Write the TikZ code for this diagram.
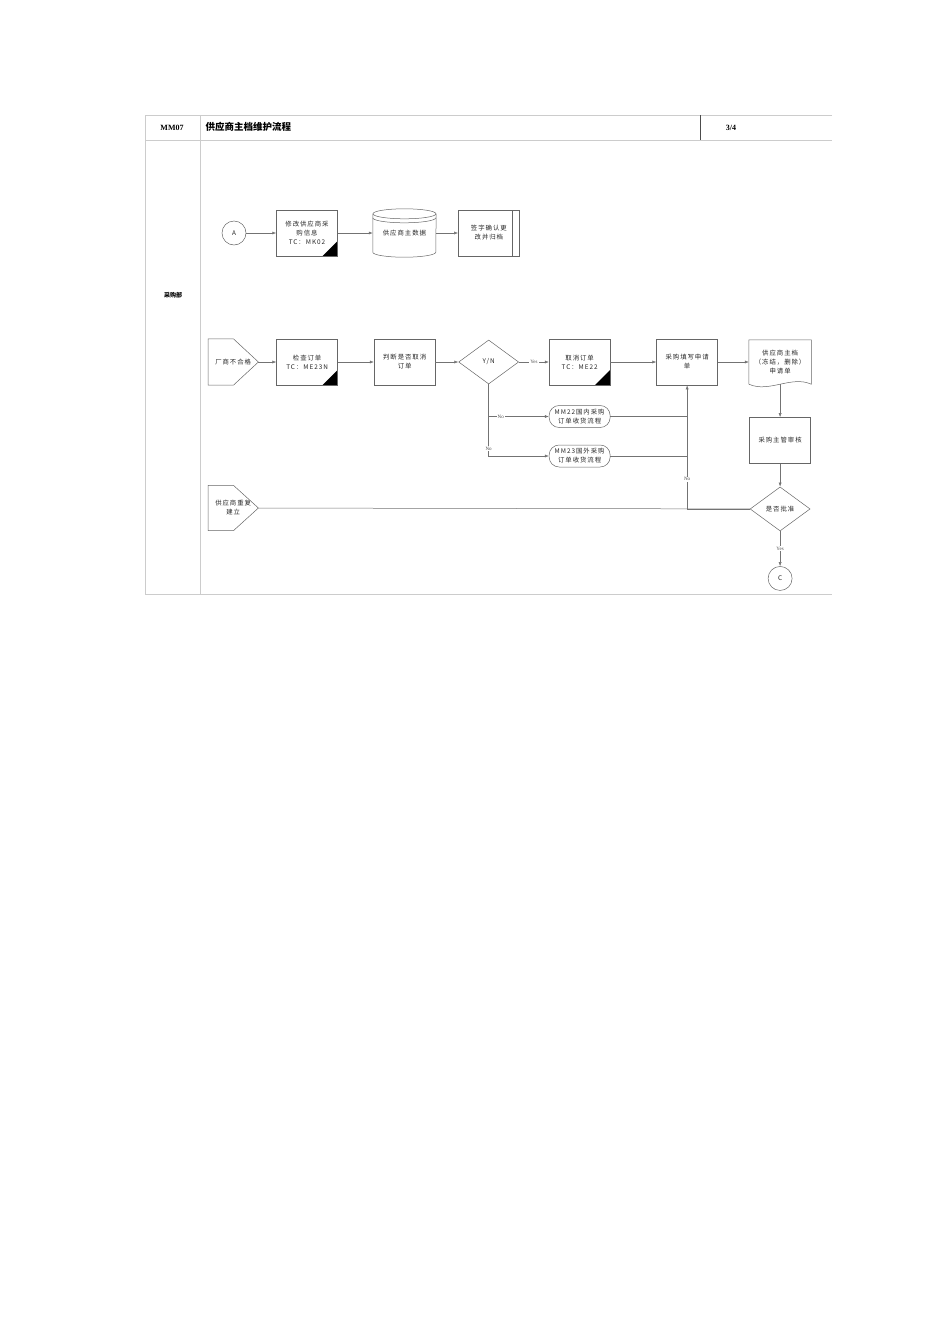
\documentclass[tikz,border=0pt]{standalone}
\usepackage{fontspec}
\setmainfont{Liberation Serif}
\newfontfamily\cjk{Noto Sans CJK SC}[LetterSpace=15]
\newfontfamily\cjkhead{Noto Sans CJK SC}
\usetikzlibrary{positioning, shapes.geometric, arrows.meta}

\tikzset{
	shapeline/.style={draw=black!60, line width=0.5pt},
	boxtext/.style={font=\cjk\fontsize{6.4}{9}\selectfont, align=center, text=black!85},
	stepbox/.style={shapeline, boxtext, rectangle, minimum width=61pt, minimum height=46pt, inner sep=1pt},
	sapbox/.style={stepbox, path picture={\fill[black] (path picture bounding box.south east) -- ++(-15pt,0pt) -- ++(15pt,15pt) -- cycle;}},
	filebox/.style={stepbox, path picture={\draw[black!60] ([xshift=-7pt]path picture bounding box.north east) -- ([xshift=-7pt]path picture bounding box.south east);}},
	joint/.style={shapeline, boxtext, circle, minimum size=24pt, inner sep=0pt},
	offpage/.style={boxtext, rectangle, minimum width=50pt, minimum height=46pt, inner sep=0pt, anchor=west},
	choice/.style={shapeline, boxtext, diamond, aspect=1.35, minimum width=60pt, minimum height=44pt, inner sep=0pt},
	subflow/.style={shapeline, boxtext, rectangle, rounded corners=10pt, minimum width=61pt, minimum height=22pt, inner sep=1pt},
	hidden/.style={boxtext, rectangle, minimum width=62pt, minimum height=44pt, inner sep=1pt},
	flow/.style={draw=black!55, line width=0.5pt},
	tag/.style={font=\fontsize{5}{5}\selectfont, text=black!70, fill=white, inner sep=1pt},
	frameline/.style={draw=black!20, line width=0.7pt},
}
\newcommand{\drawoffpage}[1]{\draw[shapeline] (#1.north west) -- ([xshift=-25pt]#1.north east) -- (#1.east) -- ([xshift=-25pt]#1.south east) -- (#1.south west) -- cycle;}

\begin{document}
\begin{tikzpicture}[x=1pt, y=-1pt, >={Latex[length=4pt,width=3pt]}]
	\useasboundingbox (0,0) rectangle (950,1344);
	% frame and header
	\draw[frameline] (832,115) -- (145,115) -- (145,594) -- (832,594);
	\draw[frameline] (145,140) -- (832,140);
	\draw[frameline] (200,115) -- (200,594);
	\draw[black!70, line width=0.7pt] (700,115) -- (700,140);
	\node (code) at (172,127.5) {\fontsize{8}{8}\selectfont\bfseries MM07};
	\node[anchor=west] (title) at (202,127) {\cjkhead\fontsize{9.5}{9.5}\selectfont\bfseries 供应商主档维护流程};
	\node (page) at (731,127.5) {\fontsize{8}{8}\selectfont\bfseries 3/4};
	\node (lane) at (173,295) {\cjkhead\fontsize{6}{6}\selectfont\bfseries 采购部};

	% row 1
	\node[joint] (A) at (234,233) {A};
	\node[sapbox, right=30pt of A] (modify) {修改供应商采\\购信息\\TC：MK02};
	\node[hidden, right=35pt of modify, minimum width=63pt, minimum height=48pt] (master) {供应商主数据};
	\draw[shapeline] ([yshift=-5pt]master.north west) -- ([yshift=5pt]master.south west) arc[start angle=180, end angle=360, x radius=31.5pt, y radius=5pt] -- ([yshift=-5pt]master.north east);
	\draw[shapeline] ([yshift=-5pt]master.north) ellipse[x radius=31.5pt, y radius=5pt];
	\draw[shapeline] ([yshift=-9pt]master.north west) arc[start angle=180, end angle=360, x radius=31.5pt, y radius=5pt];
	\node[filebox, right=22pt of master] (sign) {签字确认更\\改并归档};

	% row 2
	\node[offpage] (reject) at (208,362) {厂商不合格};
	\drawoffpage{reject}
	\node[sapbox, right=18pt of reject] (check) {检查订单\\TC：ME23N};
	\node[stepbox, right=36pt of check] (judge) {判断是否取消\\订单};
	\node[choice, right=23pt of judge] (yn) {Y/N};
	\node[sapbox, right=30pt of yn] (cancel) {取消订单\\TC：ME22};
	\node[stepbox, right=46pt of cancel] (apply) {采购填写申请\\单};
	\node[hidden, right=31pt of apply] (form) {供应商主档\\（冻结，删除）\\申请单};
	\draw[shapeline] (form.south west) -- (form.north west) -- (form.north east) -- (form.south east) .. controls +(-20pt,9pt) and +(20pt,-9pt) .. (form.south west);
	\node[subflow, below=20pt of cancel] (domestic) {MM22国内采购\\订单收货流程};
	\node[subflow, below=17pt of domestic] (import) {MM23国外采购\\订单收货流程};
	\node[stepbox, below=33pt of form] (review) {采购主管审核};
	\node[choice, below=23pt of review] (approve) {是否批准};
	\node[joint, below=35pt of approve] (C) {C};
	\node[offpage, minimum height=45pt] (dup) at (208,508) {供应商重复\\建立};
	\drawoffpage{dup}

	\draw[flow, ->] (A) -- (modify);
	\draw[flow, ->] (modify) -- (master);
	\draw[flow, ->] (master) -- (sign);
	\draw[flow, ->] (reject) -- (check);
	\draw[flow, ->] (check) -- (judge);
	\draw[flow, ->] (judge) -- (yn);
	\draw[flow, ->] (yn) -- node[tag] {Yes} (cancel);
	\draw[flow, ->] (cancel) -- (apply);
	\draw[flow, ->] (apply) -- (form);
	\draw[flow, ->] (form) -- (review);
	\draw[flow, ->] (review) -- (approve);
	\draw[flow, ->] (approve) -- node[tag] {Yes} (C);
	\draw[flow, ->] (yn.south) |- node[tag, pos=0.6] {No} (domestic);
	\draw[flow, ->] (yn.south) |- node[tag, pos=0.45] {No} (import);
	\draw[flow] (domestic) -- (domestic -| apply);
	\draw[flow] (import) -- (import -| apply);
	\draw[flow] (dup) -- (approve);
	\draw[flow, ->] (approve) -| node[tag, pos=0.62] {No} (apply);
\end{tikzpicture}
\end{document}
